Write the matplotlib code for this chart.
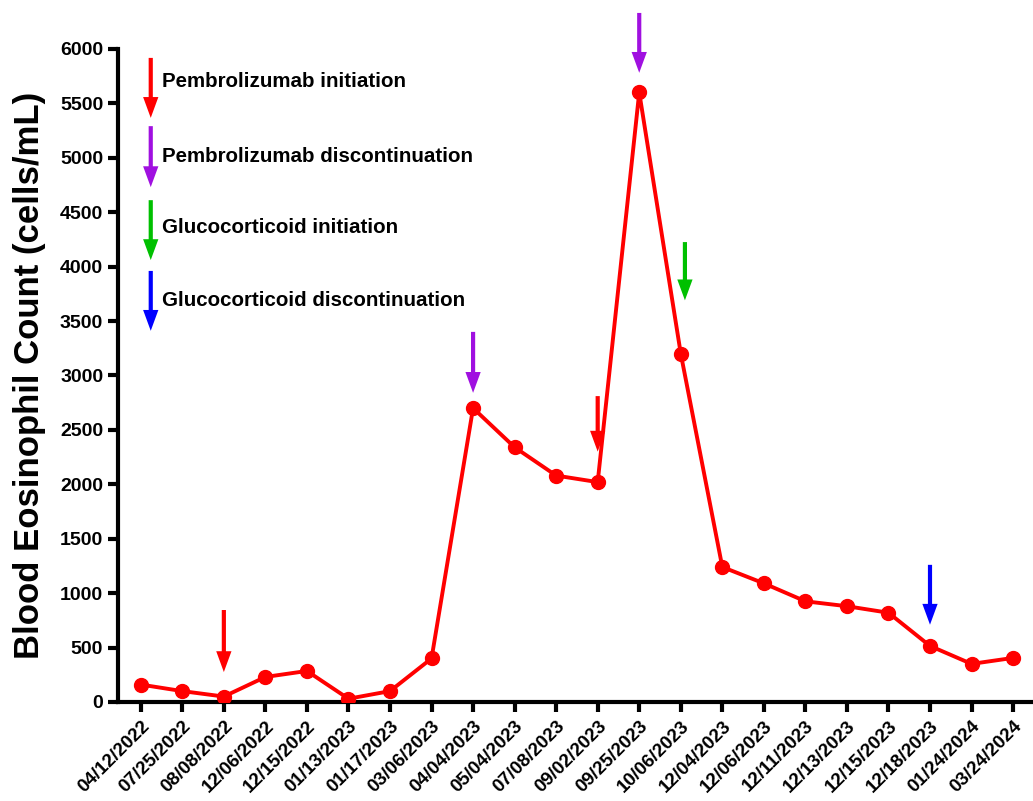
import numpy as np
import matplotlib.pyplot as plt

plt.rcParams['font.family'] = ['Liberation Sans', 'DejaVu Sans']
plt.rcParams['font.weight'] = 'bold'

# 采样日期与嗜酸性粒细胞计数
dates = ["04/12/2022", "07/25/2022", "08/08/2022", "12/06/2022", "12/15/2022",
         "01/13/2023", "01/17/2023", "03/06/2023", "04/04/2023", "05/04/2023",
         "07/08/2023", "09/02/2023", "09/25/2023", "10/06/2023", "12/04/2023",
         "12/06/2023", "12/11/2023", "12/13/2023", "12/15/2023", "12/18/2023",
         "01/24/2024", "03/24/2024"]
counts = [160, 100, 50, 230, 285, 30, 100, 400, 2700, 2340, 2080, 2020,
          5600, 3200, 1240, 1090, 925, 880, 820, 515, 350, 405]

# 事件箭头：索引、起点、终点、颜色
event_idx = [2, 8, 11, 12, 13, 19]
event_top = [845, 3400, 2810, 6330, 4225, 1260]
event_tip = [275, 2840, 2300, 5780, 3690, 710]
event_color = ['#ff0000', '#a010e0', '#ff0000', '#a010e0', '#00c000', '#0000ff']

# 图例
legend_labels = ["Pembrolizumab initiation", "Pembrolizumab discontinuation",
                 "Glucocorticoid initiation", "Glucocorticoid discontinuation"]
legend_colors = ['#ff0000', '#a010e0', '#00c000', '#0000ff']
legend_top = [5917, 5290, 4610, 3960]
legend_tip = [5366, 4730, 4060, 3410]
legend_text_y = [5700, 5010, 4360, 3690]

fig = plt.figure(figsize=(10.33, 8.01), dpi=100)
ax = fig.add_axes([0.114, 0.1236, 0.884, 0.8154])

x = np.arange(len(dates))
ax.plot(x, counts, color='#ff0000', lw=2.8, marker='o', ms=10, zorder=3)

def arrow(xp, top, tip, c):
    ax.annotate('', xy=(xp, tip), xytext=(xp, top),
                arrowprops=dict(facecolor=c, edgecolor='none', width=3,
                                headwidth=11, headlength=15, shrink=0),
                annotation_clip=False)

for i, t, p, c in zip(event_idx, event_top, event_tip, event_color):
    xp = i + (0.1 if i == 13 else 0)
    arrow(xp, t, p, c)

for lab, c, t, p, ty in zip(legend_labels, legend_colors, legend_top, legend_tip, legend_text_y):
    arrow(0.24, t, p, c)
    ax.text(0.52, ty, lab, fontsize=14.8, fontweight='bold', va='center', ha='left')

ax.set_xlim(-0.554, 21.43)
ax.set_ylim(0, 6000)
ax.set_yticks(range(0, 6001, 500))
ax.set_xticks(x)
ax.set_xticklabels(dates, rotation=45, ha='right', rotation_mode='anchor', fontsize=13.5, fontweight='bold')
for lab in ax.get_yticklabels():
    lab.set_fontsize(14)
    lab.set_fontweight('bold')
ax.set_ylabel('Blood Eosinophil Count (cells/mL)', fontsize=25, fontweight='bold', labelpad=10)

for s in ['top', 'right']:
    ax.spines[s].set_visible(False)
for s in ['left', 'bottom']:
    ax.spines[s].set_linewidth(3)
ax.tick_params(axis='both', width=3, length=7, direction='out')
ax.tick_params(axis='x', pad=4)

fig.savefig('out.png', dpi=100)
